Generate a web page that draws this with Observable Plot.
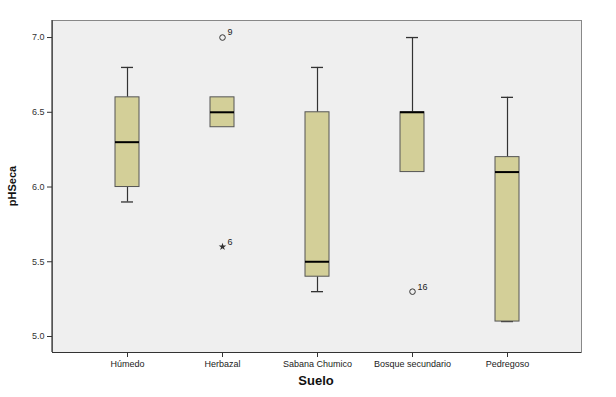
<!DOCTYPE html>
<html>
<head>
<meta charset="utf-8">
<script src="https://cdn.jsdelivr.net/npm/d3@7"></script>
<script src="https://cdn.jsdelivr.net/npm/@observablehq/plot@0.6"></script>
<style>
  html, body { margin: 0; padding: 0; background: #fff; }
  svg { font-family: "Liberation Sans", Arial, sans-serif; }
</style>
</head>
<body>
<div id="chart"></div>
<script>
const categories = ["Húmedo", "Herbazal", "Sabana Chumico", "Bosque secundario", "Pedregoso"];
const q1Values     = [6.0, 6.4, 5.4, 6.1, 5.1];
const medianValues = [6.3, 6.5, 5.5, 6.5, 6.1];
const q3Values     = [6.6, 6.6, 6.5, 6.5, 6.2];
const whiskerLow   = [5.9, null, 5.3, null, 5.1];
const whiskerHigh  = [6.8, null, 6.8, 7.0, 6.6];
const outlierCategory = ["Herbazal", "Herbazal", "Bosque secundario"];
const outlierValue    = [7.0, 5.6, 5.3];
const outlierLabel    = ["9", "6", "16"];
const outlierExtreme  = [false, true, false];
const yTicks = [5.0, 5.5, 6.0, 6.5, 7.0];

const boxes = categories.map((c, i) => ({
  cat: c, q1: q1Values[i], med: medianValues[i], q3: q3Values[i],
  lo: whiskerLow[i], hi: whiskerHigh[i]
}));
const outliers = outlierCategory.map((c, i) => ({
  cat: c, v: outlierValue[i], label: outlierLabel[i], extreme: outlierExtreme[i]
}));
const lowW = boxes.filter(d => d.lo != null);
const highW = boxes.filter(d => d.hi != null);
const yDomain = [4.893, 7.114];

const chart = Plot.plot({
  width: 616,
  height: 397,
  marginLeft: 52,
  marginRight: 35,
  marginTop: 20,
  marginBottom: 45,
  style: { fontFamily: "Liberation Sans, Arial, sans-serif", fontSize: "9px", background: "#fff" },
  x: {
    type: "band",
    domain: categories,
    paddingInner: 0.748,
    paddingOuter: 0.651,
    label: null
  },
  y: { domain: yDomain, label: null },
  marks: [
    Plot.frame({ fill: "#efefef", stroke: "none" }),
    Plot.ruleX(lowW, { x: "cat", y1: "lo", y2: "q1", stroke: "#333", strokeWidth: 1.2 }),
    Plot.ruleX(highW, { x: "cat", y1: "q3", y2: "hi", stroke: "#333", strokeWidth: 1.2 }),
    Plot.tickY(lowW, { x: "cat", y: "lo", insetLeft: 6, insetRight: 6, stroke: "#333", strokeWidth: 1.3 }),
    Plot.tickY(highW, { x: "cat", y: "hi", insetLeft: 6, insetRight: 6, stroke: "#333", strokeWidth: 1.3 }),
    Plot.barY(boxes, { x: "cat", y1: "q1", y2: "q3", fill: "#d3cf98", stroke: "#555", strokeWidth: 1 }),
    Plot.tickY(boxes, { x: "cat", y: "med", stroke: "#000", strokeWidth: 2 }),
    Plot.dot(outliers.filter(d => !d.extreme), { x: "cat", y: "v", r: 2.8, stroke: "#333", strokeWidth: 1, fill: "none" }),
    Plot.dot(outliers.filter(d => d.extreme), { x: "cat", y: "v", r: 2.4, symbol: "star", fill: "#333", stroke: "none" }),
    Plot.text(outliers, { x: "cat", y: "v", text: "label", dx: 5, dy: -5, textAnchor: "start", fontSize: 9, fill: "#222" }),
    Plot.axisY({ ticks: yTicks, tickFormat: d3.format(".1f"), tickSize: 5, tickPadding: 3, fontSize: 9, stroke: "#333", fill: "#333", label: null }),
    Plot.axisX({ tickSize: 5, tickPadding: 3, fontSize: 9, stroke: "#333", fill: "#222", label: null }),
    Plot.frame({ stroke: "#888", strokeWidth: 1 }),
    Plot.ruleY([yDomain[0]], { stroke: "#333", strokeWidth: 1.2 })
  ]
});

const svg = d3.select(chart);
// dark left axis line
svg.append("line")
  .attr("x1", 52).attr("x2", 52)
  .attr("y1", 20).attr("y2", 352)
  .attr("stroke", "#333").attr("stroke-width", 1.2);
svg.append("text")
  .attr("x", 316).attr("y", 385)
  .attr("text-anchor", "middle")
  .attr("font-size", 13).attr("font-weight", "bold")
  .attr("font-family", "Liberation Sans, Arial, sans-serif")
  .attr("fill", "#111")
  .text("Suelo");
svg.append("text")
  .attr("transform", "translate(16,186) rotate(-90)")
  .attr("text-anchor", "middle")
  .attr("font-size", 11).attr("font-weight", "bold")
  .attr("font-family", "Liberation Sans, Arial, sans-serif")
  .attr("fill", "#111")
  .text("pHSeca");

document.getElementById("chart").appendChild(chart);
</script>
</body>
</html>
